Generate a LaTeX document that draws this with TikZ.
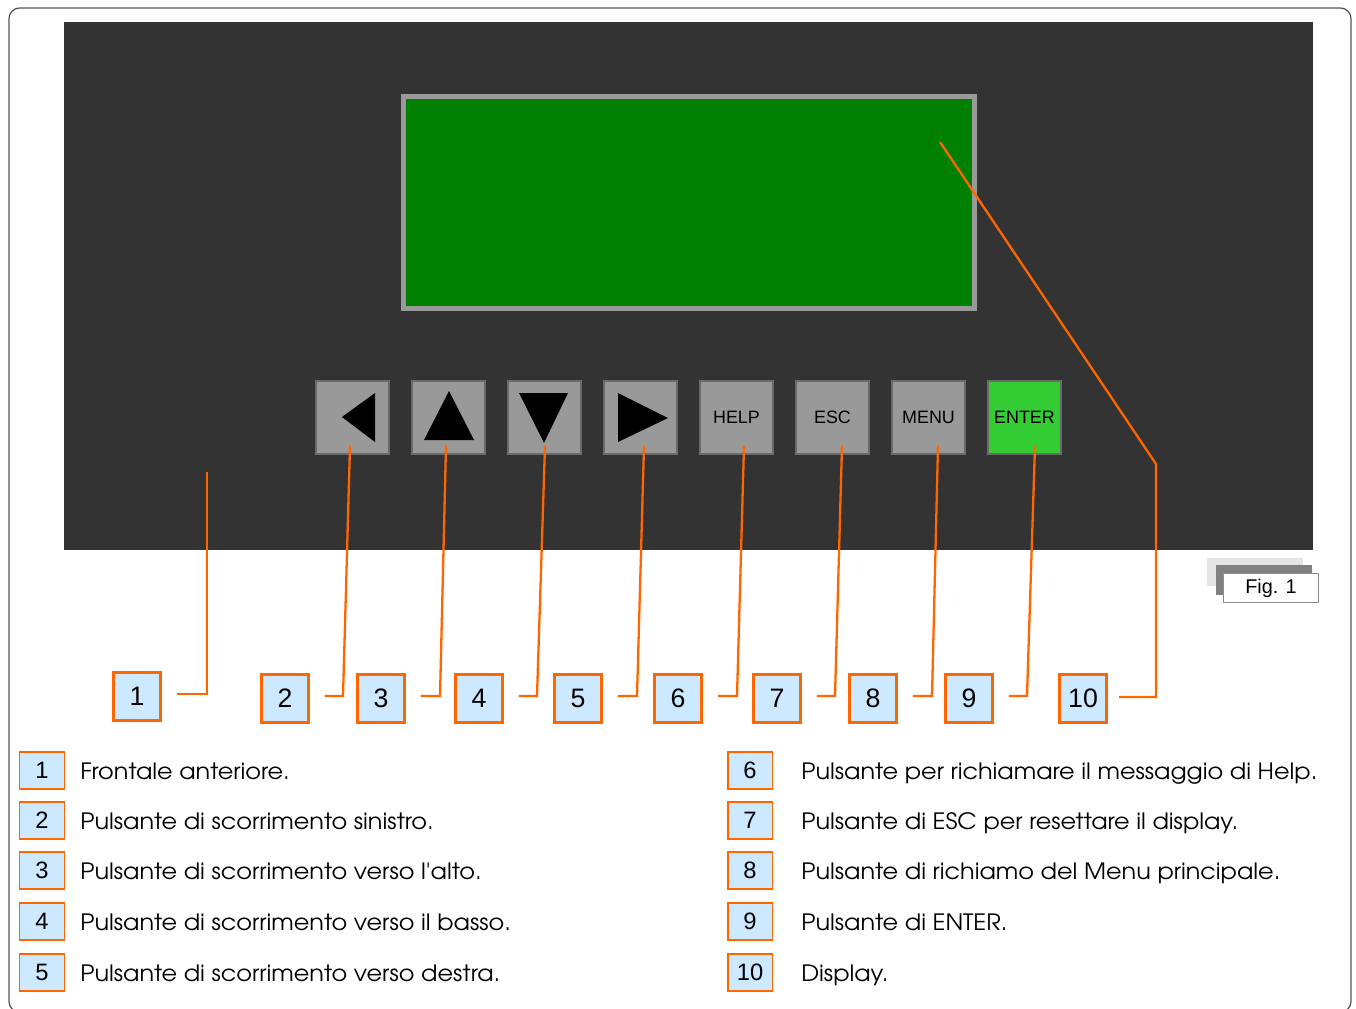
\documentclass[tikz,border=0pt]{standalone}
\usepackage{fontspec}
\setmainfont{Liberation Sans}
\newfontfamily\gothic[FakeStretch=1.065]{TeX Gyre Adventor}
\usetikzlibrary{calc}
\definecolor{panel}{HTML}{333333}
\definecolor{lcd}{HTML}{008000}
\definecolor{btngray}{HTML}{999999}
\definecolor{btnedge}{HTML}{6A6A6A}
\definecolor{entergreen}{HTML}{33CC33}
\definecolor{orng}{HTML}{FF6600}
\definecolor{lblue}{HTML}{CCE9FF}
\definecolor{frame}{HTML}{555555}
\tikzset{
  btn/.style={draw=btnedge, fill=btngray, line width=0.6pt, minimum width=1.46cm, minimum height=1.46cm, inner sep=0pt, font=\fontsize{10.2}{12}\selectfont},
  num/.style={draw=orng, fill=lblue, line width=1.7pt, minimum width=0.94cm, minimum height=0.96cm, inner sep=0pt, font=\fontsize{15.2}{17}\selectfont},
  lnum/.style={draw=orng, fill=lblue, line width=1.13pt, minimum width=0.9cm, minimum height=0.74cm, inner sep=0pt, font=\fontsize{13.5}{15}\selectfont},
  ltext/.style={anchor=base west, inner sep=0pt, font=\gothic\fontsize{12.8}{15}\selectfont},
  lead/.style={draw=orng, line width=1.3pt},
  tri/.style={fill=black}
}
\begin{document}
\begin{tikzpicture}[x=0.02cm, y=-0.02cm]
\useasboundingbox (0,0) rectangle (1356,1008);
\fill[white] (0,0) rectangle (1356,1008);
% outer frame
\draw[frame, line width=0.7pt, rounded corners=6] (9,8) rectangle (1351,1012);
% panel
\fill[panel] (64,22) rectangle (1313,550);
% display
\draw[btngray, fill=lcd, line width=2.8pt] (403.5,96.5) rectangle (974.5,308.5);
% buttons
\node[btn] (b1) at (352.5,417.5) {};
\node[btn] (b2) at (448.5,417.5) {};
\node[btn] (b3) at (544.5,417.5) {};
\node[btn] (b4) at (640.5,417.5) {};
\node[btn] (b5) at (736.5,417.5) {HELP};
\node[btn] (b6) at (832.5,417.5) {ESC};
\node[btn] (b7) at (928.5,417.5) {MENU};
\node[btn, fill=entergreen] (b8) at (1024.5,417.5) {ENTER};
% arrows
\fill[tri] (342,417) -- (375,393) -- (375,442) -- cycle;
\fill[tri] (449,391) -- (474,440) -- (424,440) -- cycle;
\fill[tri] (519,393) -- (568,393) -- (544,443) -- cycle;
\fill[tri] (618,393) -- (668,418) -- (618,442) -- cycle;
% Fig. 1 label
\fill[black!10] (1207,558) rectangle (1303,586);
\fill[black!50] (1216,565) rectangle (1312,595);
\node[draw=black!45, fill=white, line width=0.6pt, minimum width=1.9cm, minimum height=0.58cm, inner sep=0pt, font=\fontsize{11.3}{13}\selectfont] (fig) at (1271,588) {Fig. 1};
% number boxes
\node[num] (n1) at (137,696) {1};
\node[num] (n2) at (285,698) {2};
\node[num] (n3) at (381,698) {3};
\node[num] (n4) at (479,698) {4};
\node[num] (n5) at (578,698) {5};
\node[num] (n6) at (678,698) {6};
\node[num] (n7) at (777,698) {7};
\node[num] (n8) at (873,698) {8};
\node[num] (n9) at (969,698) {9};
\node[num] (n10) at (1083,698.5) {10};
% leader start points
\coordinate (s1) at (207,472);
\coordinate (s10) at (940,142);
\coordinate (k10) at (1156,464);
% leaders
\draw[lead] (s1) -- (207,694) -- ($(n1.east)+(15,-2)$);
\draw[lead] ($(b1.south)+(-2.5,-9)$) -- (343,696) -- ($(n2.east)+(15,-2)$);
\draw[lead] ($(b2.south)+(-2.5,-9)$) -- (440,696) -- ($(n3.east)+(15,-2)$);
\draw[lead] ($(b3.south)+(0.5,-9)$) -- (537,696) -- ($(n4.east)+(15,-2)$);
\draw[lead] ($(b4.south)+(3.5,-9)$) -- (637,696) -- ($(n5.east)+(15,-2)$);
\draw[lead] ($(b5.south)+(7.5,-9)$) -- (737,696) -- ($(n6.east)+(15,-2)$);
\draw[lead] ($(b6.south)+(9.5,-9)$) -- (835,696) -- ($(n7.east)+(15,-2)$);
\draw[lead] ($(b7.south)+(9.5,-9)$) -- (932,696) -- ($(n8.east)+(15,-2)$);
\draw[lead] ($(b8.south)+(10.5,-9)$) -- (1027,696) -- ($(n9.east)+(15,-2)$);
\draw[lead] (s10) -- (k10) -- (1156,697) -- ($(n10.east)+(11,-1.5)$);
% legend
\node[lnum] (l1) at (42,770) {1};
\node[lnum] (l2) at (42,820) {2};
\node[lnum] (l3) at (42,870) {3};
\node[lnum] (l4) at (42,921) {4};
\node[lnum] (l5) at (42,972) {5};
\node[lnum] (l6) at (750,770) {6};
\node[lnum] (l7) at (750,820) {7};
\node[lnum] (l8) at (750,870) {8};
\node[lnum] (l9) at (750,921) {9};
\node[lnum] (l10) at (750,972) {10};
\node[ltext] (t1) at (80,779) {Frontale anteriore.};
\node[ltext] (t2) at (80,829) {Pulsante di scorrimento sinistro.};
\node[ltext] (t3) at (80,879) {Pulsante di scorrimento verso l'alto.};
\node[ltext] (t4) at (80,930) {Pulsante di scorrimento verso il basso.};
\node[ltext] (t5) at (80,981) {Pulsante di scorrimento verso destra.};
\node[ltext] (t6) at (801,779) {Pulsante per richiamare il messaggio di Help.};
\node[ltext] (t7) at (801,829) {Pulsante di ESC per resettare il display.};
\node[ltext] (t8) at (801,879) {Pulsante di richiamo del Menu principale.};
\node[ltext] (t9) at (801,930) {Pulsante di ENTER.};
\node[ltext] (t10) at (801,981) {Display.};
\end{tikzpicture}
\end{document}
